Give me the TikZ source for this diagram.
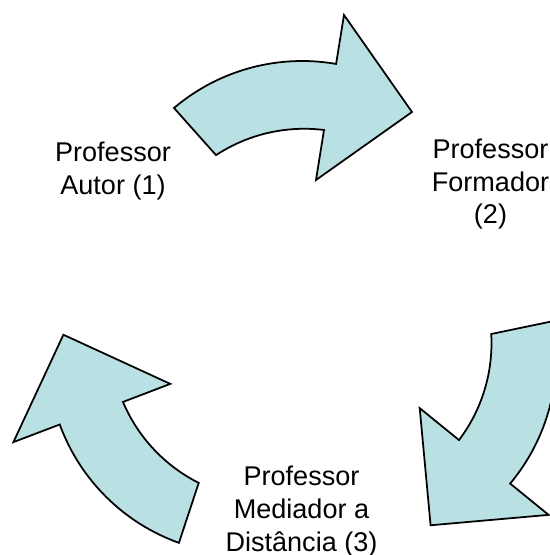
\documentclass[tikz,border=0pt]{standalone}
\usepackage{fontspec}
\setmainfont{Liberation Sans}
\definecolor{azulclaro}{RGB}{185,224,227}

\begin{document}
\begin{tikzpicture}[x=0.02cm,y=0.02cm,
    seta/.style={fill=azulclaro,draw=black,line width=1pt,line join=miter},
    rotulo/.style={align=center,inner sep=0pt,anchor=base,font=\fontsize{15.4}{18.7}\selectfont}]
  \useasboundingbox (-302,-231) rectangle (248,324);
  \clip (-302,-231) rectangle (248,324);
  % setas
  \begin{scope}[rotate=0]
    \draw[seta] (-128,216) arc[start angle=130.3,end angle=80.1,radius=198] -- (42,309) -- (110,212) -- (14,144)
      -- (22,194) arc[start angle=82.9,end angle=123.3,radius=160.5] -- cycle;
  \end{scope}
  \begin{scope}[rotate=-120]
    \draw[seta] (-128,216) arc[start angle=130.3,end angle=80.1,radius=198] -- (42,309) -- (110,212) -- (14,144)
      -- (22,194) arc[start angle=82.9,end angle=123.3,radius=160.5] -- cycle;
  \end{scope}
  \begin{scope}[rotate=120]
    \draw[seta] (-128,216) arc[start angle=130.3,end angle=80.1,radius=198] -- (42,309) -- (110,212) -- (14,144)
      -- (22,194) arc[start angle=82.9,end angle=123.3,radius=160.5] -- cycle;
  \end{scope}
  % rotulos (base = ultima linha)
  \node[rotulo] (autor) at (-189,130) {Professor\\Autor (1)};
  \node[rotulo] (formador) at (188.5,100) {Professor\\Formador\\(2)};
  \node[rotulo] (mediador) at (-0.5,-227) {Professor\\Mediador a\\Distância (3)};
\end{tikzpicture}
\end{document}
